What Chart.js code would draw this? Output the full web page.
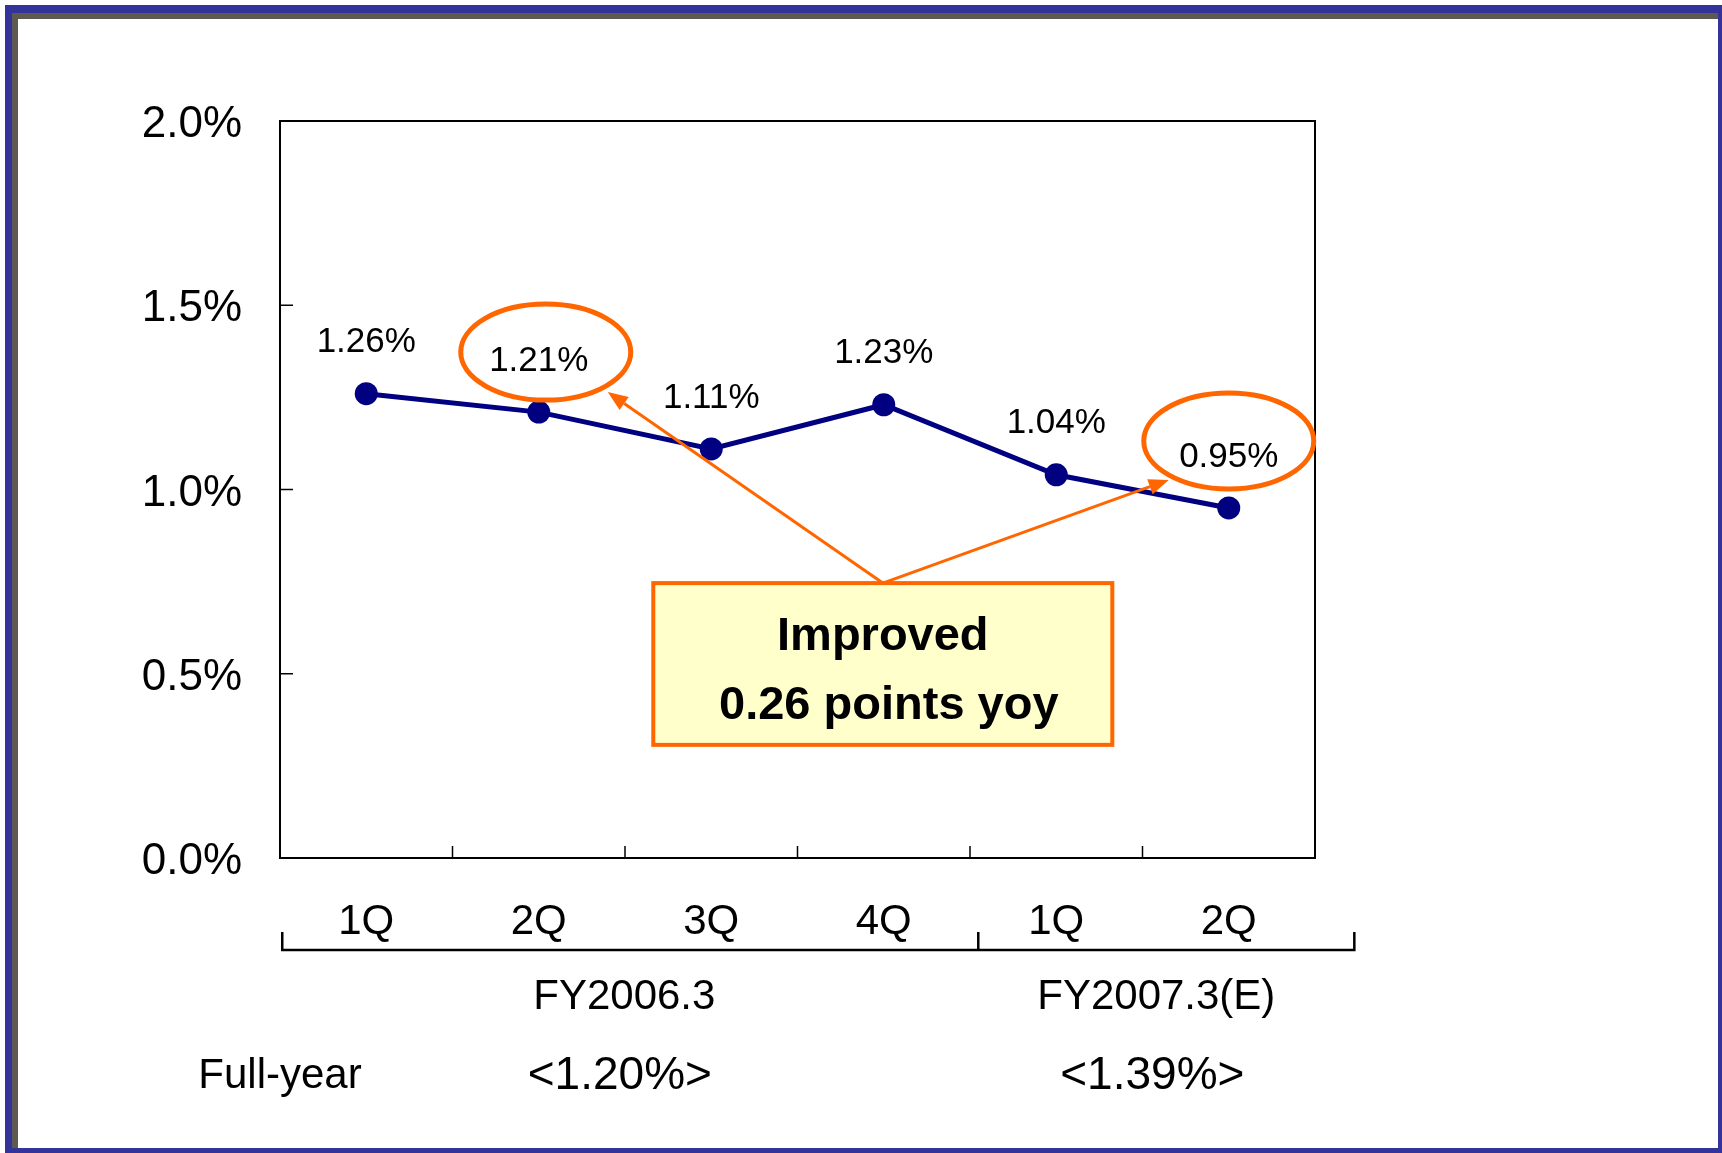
<!DOCTYPE html>
<html lang="en">
<head>
<meta charset="UTF-8">
<title>Ratio by quarter</title>
<script src="https://cdn.jsdelivr.net/npm/chart.js"></script>
<style>
    body {
        margin: 0;
        width: 1722px;
        height: 1153px;
        overflow: hidden;
        background: #fff;
        font-family: 'Liberation Sans', Arial, sans-serif;
    }
    #frame {
        position: absolute;
        left: 5px;
        top: 5px;
        right: 0;
        bottom: 0;
        border-style: solid;
        border-color: #333399;
        border-width: 8px 4px 5px 7px;
        box-shadow: inset 6px 6px 0 #5f5a50;
    }
    #chart {
        position: absolute;
        left: 0;
        top: 0;
    }
</style>
</head>
<body>
<div id="frame"></div>
<canvas id="chart" width="1722" height="1153"></canvas>

<script>
// data
const quarters = ['1Q', '2Q', '3Q', '4Q', '1Q', '2Q'];
const ratios = [1.26, 1.21, 1.11, 1.23, 1.04, 0.95];
const yTicks = [0, 0.5, 1.0, 1.5, 2.0];
const yTickLabels = ['0.0%', '0.5%', '1.0%', '1.5%', '2.0%'];
const fyGroups = ['FY2006.3', 'FY2007.3(E)'];
const fullYearLabel = 'Full-year';
const fullYear = ['<1.20%>', '<1.39%>'];
const calloutLines = ['Improved', '0.26 points yoy'];

const FONT = "'Liberation Sans', Arial, sans-serif";
const ORANGE = '#ff6600';
const NAVY = '#000080';

function arrow(ctx, x0, y0, x1, y1) {
    const a = Math.atan2(y1 - y0, x1 - x0);
    const len = 20, hw = 8;
    const bx = x1 - len * Math.cos(a), by = y1 - len * Math.sin(a);
    ctx.beginPath();
    ctx.moveTo(x0, y0);
    ctx.lineTo(bx, by);
    ctx.stroke();
    ctx.beginPath();
    ctx.moveTo(x1, y1);
    ctx.lineTo(bx + hw * Math.sin(a), by - hw * Math.cos(a));
    ctx.lineTo(bx - hw * Math.sin(a), by + hw * Math.cos(a));
    ctx.closePath();
    ctx.fill();
}

const extras = {
    id: 'extras',
    afterDatasetsDraw(chart) {
        const ctx = chart.ctx;
        const area = chart.chartArea;
        const xs = chart.scales.x, ys = chart.scales.y;
        const pts = chart.getDatasetMeta(0).data;
        ctx.save();

        // frame top/right
        ctx.strokeStyle = '#000';
        ctx.lineWidth = 2;
        ctx.beginPath();
        ctx.moveTo(area.left, area.top);
        ctx.lineTo(area.right, area.top);
        ctx.lineTo(area.right, area.bottom);
        ctx.stroke();

        // inward ticks + y labels
        ctx.lineWidth = 1.5;
        ctx.fillStyle = '#000';
        ctx.font = '44px ' + FONT;
        ctx.textAlign = 'right';
        ctx.textBaseline = 'middle';
        ys.ticks.forEach((t, i) => {
            const y = ys.getPixelForTick(i);
            ctx.beginPath();
            ctx.moveTo(area.left, y);
            ctx.lineTo(area.left + 13, y);
            ctx.stroke();
            ctx.fillText(yTickLabels[i], area.left - 38, y + 4);
        });
        for (let i = 1; i < quarters.length; i++) {
            const x = (xs.getPixelForTick(i - 1) + xs.getPixelForTick(i)) / 2;
            ctx.beginPath();
            ctx.moveTo(x, area.bottom);
            ctx.lineTo(x, area.bottom - 12);
            ctx.stroke();
        }

        // value labels
        ctx.font = '35px ' + FONT;
        ctx.textAlign = 'center';
        pts.forEach((p, i) => {
            ctx.fillText(ratios[i].toFixed(2) + '%', p.x, p.y - 51);
        });

        // ellipses round 2Q of each year
        ctx.strokeStyle = ORANGE;
        ctx.lineWidth = 5;
        const e1 = { x: pts[1].x + 7, y: pts[1].y - 60 };
        const e2 = { x: pts[5].x, y: pts[5].y - 67 };
        [e1, e2].forEach(e => {
            ctx.beginPath();
            ctx.ellipse(e.x, e.y, 85, 48, 0, 0, Math.PI * 2);
            ctx.stroke();
        });

        // callout box
        const bl = xs.getPixelForValue(1.664), br = xs.getPixelForValue(4.325);
        const bt = ys.getPixelForValue(0.746), bb = ys.getPixelForValue(0.307);
        const bc = (bl + br) / 2;
        ctx.fillStyle = ORANGE;
        ctx.lineWidth = 3;
        arrow(ctx, bc, bt, pts[1].x + 69, pts[1].y - 20);
        arrow(ctx, bc, bt, pts[5].x - 60, pts[5].y - 28);

        ctx.fillStyle = '#ffffcc';
        ctx.fillRect(bl, bt, br - bl, bb - bt);
        ctx.lineWidth = 4;
        ctx.strokeRect(bl, bt, br - bl, bb - bt);
        ctx.fillStyle = '#000';
        ctx.font = 'bold 47px ' + FONT;
        ctx.fillText(calloutLines[0], bc, bt + 54);
        ctx.fillText(calloutLines[1], bc + 6, bt + 123);

        // fiscal year bracket
        const yb = area.bottom + 92;
        const xl = xs.getPixelForValue(-0.487);
        const xm = xs.getPixelForValue(3.548);
        const xr = xs.getPixelForValue(5.728);
        ctx.strokeStyle = '#000';
        ctx.lineWidth = 2.5;
        ctx.beginPath();
        ctx.moveTo(xl, yb - 18);
        ctx.lineTo(xl, yb);
        ctx.lineTo(xr, yb);
        ctx.lineTo(xr, yb - 18);
        ctx.moveTo(xm, yb - 18);
        ctx.lineTo(xm, yb);
        ctx.stroke();

        ctx.font = '42px ' + FONT;
        ctx.fillText(fyGroups[0], xs.getPixelForValue(1.496), area.bottom + 139);
        ctx.fillText(fyGroups[1], xs.getPixelForValue(4.58), area.bottom + 139);

        ctx.fillText(fullYearLabel, area.left, area.bottom + 218);
        ctx.font = '46px ' + FONT;
        ctx.fillText(fullYear[0], xs.getPixelForValue(1.47), area.bottom + 218);
        ctx.fillText(fullYear[1], xs.getPixelForValue(4.557), area.bottom + 218);

        ctx.restore();
    }
};

new Chart(document.getElementById('chart'), {
    type: 'line',
    data: {
        labels: quarters,
        datasets: [{
            data: ratios,
            borderColor: NAVY,
            backgroundColor: NAVY,
            borderWidth: 5,
            pointRadius: 11.5,
            pointBorderWidth: 0,
            pointBackgroundColor: NAVY,
            tension: 0
        }]
    },
    options: {
        responsive: false,
        animation: false,
        layout: { padding: { top: 121, right: 407, left: 0, bottom: 0 } },
        plugins: {
            legend: { display: false },
            tooltip: { enabled: false }
        },
        scales: {
            x: {
                offset: true,
                grid: { display: false, drawTicks: false },
                border: { display: true, color: '#000', width: 2 },
                ticks: { color: '#000', font: { family: FONT, size: 42 }, padding: 39 },
                afterFit: s => { s.height = 295; }
            },
            y: {
                min: 0,
                max: 2,
                afterBuildTicks: s => { s.ticks = yTicks.map(v => ({ value: v })); },
                grid: { display: false, drawTicks: false },
                border: { display: true, color: '#000', width: 2 },
                ticks: { display: false },
                afterFit: s => { s.width = 280; }
            }
        }
    },
    plugins: [extras]
});
</script>
</body>
</html>
